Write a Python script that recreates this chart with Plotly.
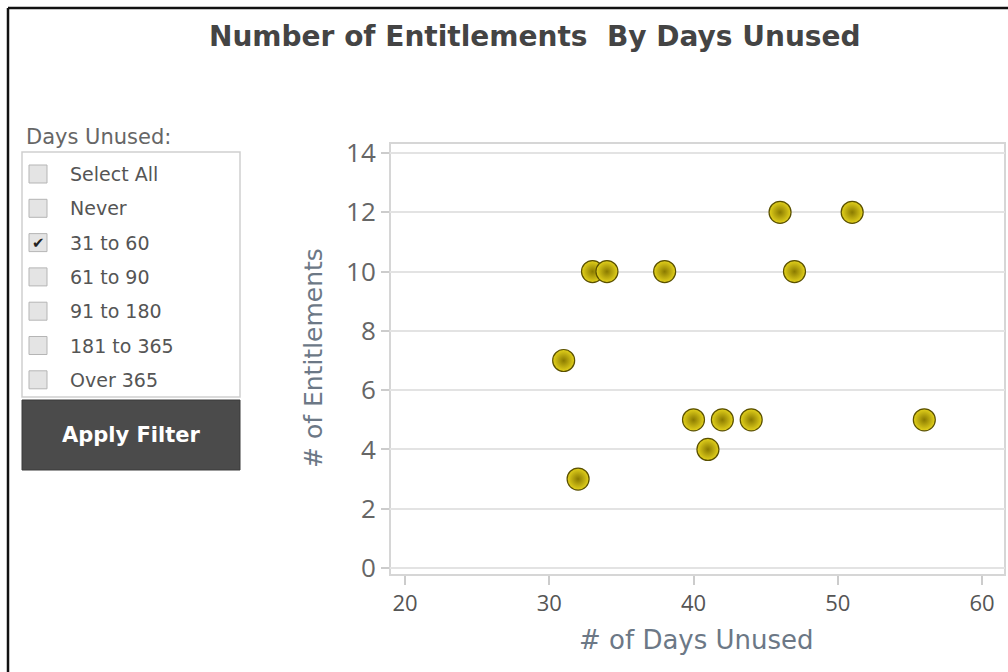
import plotly.graph_objects as go

# ---- data ----
days_unused = [31, 32, 33, 34, 38, 40, 41, 42, 44, 46, 47, 51, 56]
entitlements = [7, 3, 10, 10, 10, 5, 4, 5, 5, 12, 10, 12, 5]
filter_options = ["Select All", "Never", "31 to 60", "61 to 90", "91 to 180", "181 to 365", "Over 365"]
filter_checked = [False, False, True, False, False, False, False]
x_ticks = [20, 30, 40, 50, 60]
y_ticks = [0, 2, 4, 6, 8, 10, 12, 14]

W, H = 1008, 672
PX0, PX1 = 390, 1005   # plot area pixel bounds (x)
PY0, PY1 = 143, 575    # plot area pixel bounds (y, top/bottom)


def px(x):
    return (x - PX0) / (PX1 - PX0)


def py(y):
    return (PY1 - y) / (PY1 - PY0)


fig = go.Figure()
fig.add_trace(go.Scatter(
    x=days_unused, y=entitlements, mode="markers",
    marker=dict(size=22, color="#e4d21c",
                gradient=dict(type="radial", color="#8a7a00"),
                line=dict(color="#5a5000", width=1.2)),
    hoverinfo="x+y", showlegend=False, cliponaxis=False,
))

shapes = []
annotations = []

# outer black border (top & left)
shapes.append(dict(type="line", xref="paper", yref="paper", x0=px(8), x1=px(1010), y0=py(8), y1=py(8),
                   line=dict(color="#111", width=2.5)))
shapes.append(dict(type="line", xref="paper", yref="paper", x0=px(8), x1=px(8), y0=py(8), y1=py(675),
                   line=dict(color="#111", width=2.5)))

# plot frame
shapes.append(dict(type="rect", xref="paper", yref="paper", x0=0, x1=1, y0=0, y1=1,
                   line=dict(color="#d6d6d6", width=2), layer="below"))

# filter list box
shapes.append(dict(type="rect", xref="paper", yref="paper", x0=px(22), x1=px(240), y0=py(397), y1=py(152),
                   line=dict(color="#cfcfcf", width=1.5), fillcolor="white"))
row_y0 = 174
row_dy = 34.3
for i, (opt, chk) in enumerate(zip(filter_options, filter_checked)):
    cy = row_y0 + i * row_dy
    shapes.append(dict(type="rect", xref="paper", yref="paper",
                       x0=px(29), x1=px(47), y0=py(cy + 9), y1=py(cy - 9),
                       line=dict(color="#b5b5b5", width=1), fillcolor="#e4e4e4"))
    if chk:
        annotations.append(dict(x=px(38), y=py(cy), xref="paper", yref="paper", text="✔",
                                showarrow=False, font=dict(size=15, color="#222", family="DejaVu Sans"),
                                xanchor="center", yanchor="middle"))
    annotations.append(dict(x=px(68), y=py(cy), xref="paper", yref="paper", text=opt,
                            showarrow=False, font=dict(size=19, color="#555", family="DejaVu Sans"),
                            xanchor="left", yanchor="middle"))

annotations.append(dict(x=px(24), y=py(137), xref="paper", yref="paper", text="Days Unused:",
                        showarrow=False, font=dict(size=21, color="#666", family="DejaVu Sans"),
                        xanchor="left", yanchor="middle"))

# Apply Filter button
shapes.append(dict(type="rect", xref="paper", yref="paper", x0=px(22), x1=px(240), y0=py(470), y1=py(400),
                   line=dict(color="#3a3a3a", width=1), fillcolor="#4b4b4b"))
annotations.append(dict(x=px(131), y=py(435), xref="paper", yref="paper", text="<b>Apply Filter</b>",
                        showarrow=False, font=dict(size=21, color="white", family="DejaVu Sans"),
                        xanchor="center", yanchor="middle"))

# title
annotations.append(dict(x=px(535), y=py(37), xref="paper", yref="paper",
                        text="<b>Number of Entitlements  By Days Unused</b>",
                        showarrow=False, font=dict(size=28, color="#444", family="DejaVu Sans"),
                        xanchor="center", yanchor="middle"))

# axis titles
annotations.append(dict(x=px(696), y=py(640), xref="paper", yref="paper", text="# of Days Unused",
                        showarrow=False, font=dict(size=26, color="#6c7886", family="DejaVu Sans"),
                        xanchor="center", yanchor="middle"))
annotations.append(dict(x=px(313), y=py(358), xref="paper", yref="paper", text="# of Entitlements",
                        showarrow=False, textangle=-90, font=dict(size=25, color="#6c7886", family="DejaVu Sans"),
                        xanchor="center", yanchor="middle"))

x_per = (982 - 405) / 40.0
x_lo = 20 - (405 - PX0) / x_per
x_hi = 60 + (PX1 - 982) / x_per
y_per = (568 - 153) / 14.0
y_lo = 0 - (PY1 - 568) / y_per
y_hi = 14 + (153 - PY0) / y_per

fig.update_layout(
    width=W, height=H,
    margin=dict(l=PX0, r=W - PX1, t=PY0, b=H - PY1),
    paper_bgcolor="white", plot_bgcolor="white",
    shapes=shapes, annotations=annotations,
    xaxis=dict(range=[x_lo, x_hi], tickvals=x_ticks, showgrid=False, zeroline=False,
               ticks="outside", ticklen=9, tickcolor="#cccccc", tickwidth=2,
               tickfont=dict(size=22, color="#555", family="Open Sans"), showline=False),
    yaxis=dict(range=[y_lo, y_hi], tickvals=y_ticks, showgrid=True, gridcolor="#e3e3e3", gridwidth=2,
               zeroline=False, ticks="outside", ticklen=8, tickcolor="#cccccc", tickwidth=2,
               tickfont=dict(size=26, color="#666", family="Open Sans"), showline=False),
    font=dict(family="Open Sans"),
)

fig.write_html("out.html")
